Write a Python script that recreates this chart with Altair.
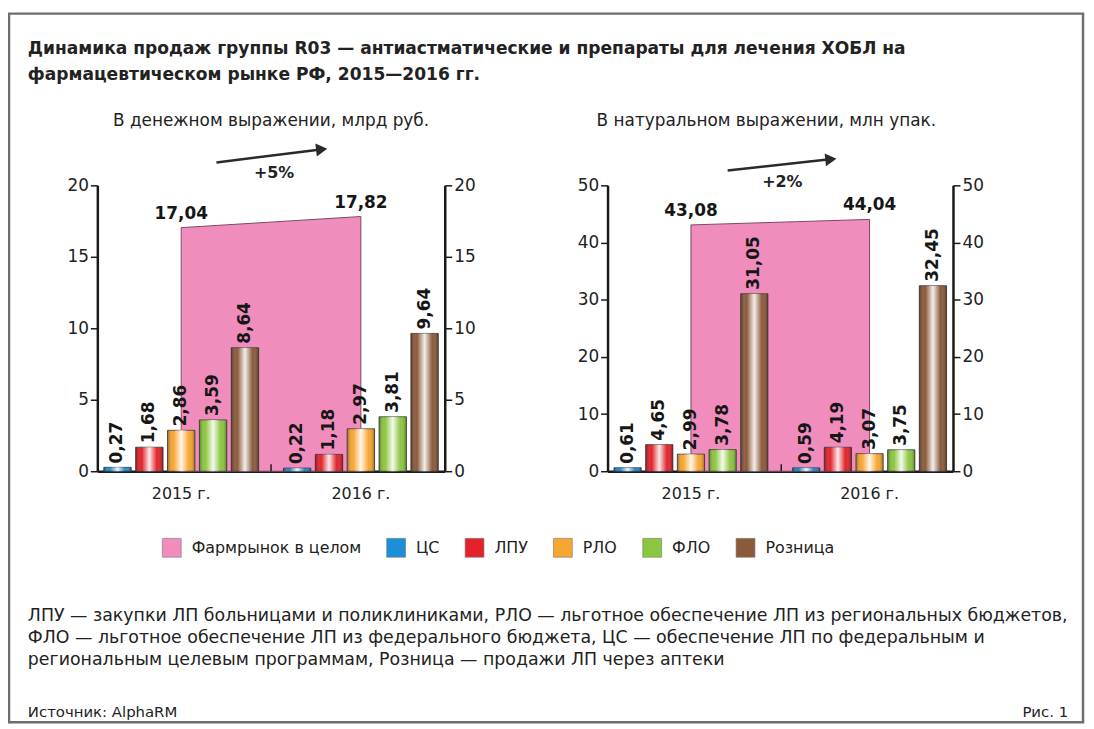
import altair as alt
import pandas as pd

# ---------------- data ----------------
years = ["2015 г.", "2016 г."]
series = ["ЦС", "ЛПУ", "РЛО", "ФЛО", "Розница"]
money_2015 = [0.27, 1.68, 2.86, 3.59, 8.64]
money_2016 = [0.22, 1.18, 2.97, 3.81, 9.64]
money_total = [17.04, 17.82]
units_2015 = [0.61, 4.65, 2.99, 3.78, 31.05]
units_2016 = [0.59, 4.19, 3.07, 3.75, 32.45]
units_total = [43.08, 44.04]
legend_names = ["Фармрынок в целом"] + series
colors = ["#f08dbd", "#1b8fd8", "#e3222b", "#f7a632", "#8cc63f", "#8b5a3a"]
money_ticks = [0, 5, 10, 15, 20]
units_ticks = [0, 10, 20, 30, 40, 50]

title_lines = [
    "Динамика продаж группы R03 — антиастматические и препараты для лечения ХОБЛ на",
    "фармацевтическом рынке РФ, 2015—2016 гг.",
]
subtitle_left = "В денежном выражении, млрд руб."
subtitle_right = "В натуральном выражении, млн упак."
notes = [
    "ЛПУ — закупки ЛП больницами и поликлиниками, РЛО — льготное обеспечение ЛП из региональных бюджетов,",
    "ФЛО — льготное обеспечение ЛП из федерального бюджета, ЦС — обеспечение ЛП по федеральным и",
    "региональным целевым программам, Розница — продажи ЛП через аптеки",
]
source = "Источник: AlphaRM"
fig = "Рис. 1"
growth_left = "+5%"
growth_right = "+2%"

FONT = "DejaVu Sans"
TXT = "#222222"
W, H = 1082, 714
OX, OY = 9, 11
Y0, Y1 = 472 - OY, 184 - OY


def bars_df(v15, v16):
    rows = []
    for yr, vals in zip(years, [v15, v16]):
        for s, v in zip(series, vals):
            rows.append({"year": yr, "series": s, "value": v})
    return pd.DataFrame(rows)


def tot_df(vals):
    return pd.DataFrame({"year": years, "total": vals})


color_scale = alt.Scale(domain=legend_names, range=colors)
legend = alt.Legend(
    orient="none", legendX=154, legendY=528, direction="horizontal", columns=6,
    symbolType="square", symbolSize=361, symbolStrokeColor="#777777",
    symbolStrokeWidth=0.6, symbolOpacity=1, labelFont=FONT, labelFontSize=16,
    labelColor=TXT, labelOffset=10, columnPadding=24, padding=0, title=None,
    labelLimit=400,
)

gradient = {
    "gradient": "linear", "x1": 0, "x2": 1, "y1": 0, "y2": 0,
    "stops": [
        {"offset": 0, "color": "rgba(0,0,0,0.35)"},
        {"offset": 0.22, "color": "rgba(255,255,255,0)"},
        {"offset": 0.5, "color": "rgba(255,255,255,0.9)"},
        {"offset": 0.78, "color": "rgba(255,255,255,0)"},
        {"offset": 1, "color": "rgba(0,0,0,0.35)"},
    ],
}


def yaxis(orient, offset, ticks):
    return alt.Axis(
        orient=orient, offset=offset, values=ticks, grid=False, title=None,
        domainColor="#1a1a1a", domainWidth=2.5, tickColor="#1a1a1a", tickWidth=1.5,
        tickSize=7, labelPadding=2, labelFont=FONT, labelFontSize=17, labelColor=TXT,
    )


def panel(bars, totals, ymax, ticks, xr):
    xs = alt.Scale(type="band", domain=years, range=xr, paddingInner=0.138, paddingOuter=0.036)
    ys = alt.Scale(domain=[0, ymax], range=[Y0, Y1], nice=False, zero=True)
    xo = alt.Scale(domain=series, paddingInner=0.14, paddingOuter=0)
    xaxis = alt.Axis(
        orient="bottom", offset=Y0 - H, title=None, ticks=False, domainColor="#1a1a1a",
        domainWidth=2.5, labelPadding=14, labelFont=FONT, labelFontSize=16,
        labelColor=TXT, labelAngle=0,
    )
    x_enc = alt.X("year:N", scale=xs, sort=years, axis=xaxis)
    xo_enc = alt.XOffset("series:N", scale=xo, sort=series)
    yl = yaxis("left", -xr[0], ticks)

    area = alt.Chart(totals).mark_area(
        fill=colors[0], stroke="#7a4a62", strokeWidth=1, opacity=1
    ).encode(x=x_enc, y=alt.Y("total:Q", scale=ys, axis=yl))

    base = alt.Chart(bars)
    bar = base.mark_bar(stroke="#3a3a3a", strokeWidth=0.8).encode(
        x=x_enc, xOffset=xo_enc, y=alt.Y("value:Q", scale=ys, axis=yl),
        color=alt.Color("series:N", scale=color_scale, legend=legend),
    )
    shine = base.mark_bar(fill=gradient).encode(
        x=x_enc, xOffset=xo_enc, y=alt.Y("value:Q", scale=ys, axis=yl)
    )
    labels = base.transform_calculate(
        lab="replace(format(datum.value, '.2f'), '.', ',')"
    ).mark_text(
        angle=270, align="left", baseline="middle", dx=4, font=FONT,
        fontWeight="bold", fontSize=17, color="#161616",
    ).encode(x=x_enc, xOffset=xo_enc, y=alt.Y("value:Q", scale=ys, axis=yl), text="lab:N")
    tlabels = alt.Chart(totals).transform_calculate(
        lab="replace(format(datum.total, '.2f'), '.', ',')"
    ).mark_text(
        dy=-14, font=FONT, fontWeight="bold", fontSize=17, color="#161616"
    ).encode(x=x_enc, y=alt.Y("total:Q", scale=ys, axis=yl), text="lab:N")

    inner = alt.layer(area, bar, shine, labels, tlabels)
    raxis = base.mark_point(opacity=0).encode(
        y=alt.Y("value:Q", scale=ys, axis=yaxis("right", xr[1] - W, ticks))
    )
    return inner, raxis


left, left_r = panel(bars_df(money_2015, money_2016), tot_df(money_total), 20,
                     money_ticks, [98 - OX, 448 - OX])
right, right_r = panel(bars_df(units_2015, units_2016), tot_df(units_total), 50,
                       units_ticks, [612 - OX, 960 - OX])

one = pd.DataFrame({"k": [0]})


def text(t, x, y, size=15, bold=False, align="left"):
    return alt.Chart(one).mark_text(
        text=t, align=align, baseline="middle", font=FONT, fontSize=size,
        fontWeight="bold" if bold else "normal", color=TXT,
    ).encode(x=alt.value(x - OX), y=alt.value(y - OY))


def arrow(x1, y1, x2, y2, ang):
    line = alt.Chart(one).mark_rule(color="#2a2a2a", strokeWidth=2.5).encode(
        x=alt.value(x1 - OX), y=alt.value(y1 - OY),
        x2=alt.value(x2 - OX - 7), y2=alt.value(y2 - OY + 0.8),
    )
    head = alt.Chart(one).mark_point(
        shape="triangle-right", filled=True, size=170, color="#2a2a2a",
        angle=ang, opacity=1,
    ).encode(x=alt.value(x2 - OX - 6), y=alt.value(y2 - OY + 0.7))
    return [line, head]


def mid_tick(x):
    return alt.Chart(one).mark_rule(color="#1a1a1a", strokeWidth=1.5).encode(
        x=alt.value(x - OX), y=alt.value(465 - OY), y2=alt.value(472 - OY)
    )


layers = [left, left_r, right, right_r, mid_tick(273), mid_tick(787)]
layers += [text(title_lines[0], 28, 47, 17.2, True), text(title_lines[1], 28, 73, 17.2, True)]
layers += [text(subtitle_left, 273, 119, 17, align="center"),
           text(subtitle_right, 772, 119, 17, align="center")]
layers += arrow(218, 161, 330, 147, 353) + arrow(733, 169, 843, 157, 354)
layers += [text(growth_left, 276, 172, 16, True, "center"),
           text(growth_right, 788, 181, 16, True, "center")]
layers += [text(n, 28, y, 17.5) for n, y in zip(notes, [618, 640, 662])]
layers += [text(source, 28, 715, 15), text(fig, 1076, 715, 15, align="right")]

chart = alt.layer(*layers).resolve_scale(
    x="independent", y="independent", xOffset="independent"
).properties(
    width=W, height=H, autosize=alt.AutoSizeParams(type="none"),
    padding={"left": 1, "top": 3, "right": 3, "bottom": 0},
).configure(
    font=FONT, view=alt.ViewConfig(stroke="#6e6e6e", strokeWidth=2.5)
)

chart.save("out.html", embed_options={"renderer": "svg", "actions": False})
